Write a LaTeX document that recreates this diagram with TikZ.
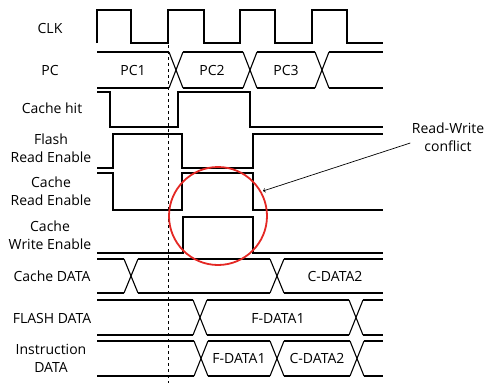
\documentclass[tikz,border=0pt]{standalone}
\usepackage{fontspec}
\setmainfont{Open Sans}
\usetikzlibrary{positioning}
\definecolor{conflictred}{RGB}{228,40,36}
\tikzset{every path/.style={line width=1.1pt}}
\tikzset{lbl/.style={align=center,font=\fontsize{14}{18}\selectfont,inner sep=1pt}}
\newcommand{\seg}[4]{
  \draw (#1,#3) -- (#2,#3);
  \draw (#1,#4) -- (#2,#4);
}
\newcommand{\cross}[3]{
  \draw (#1-7,#2) -- (#1+7,#3);
  \draw (#1-7,#3) -- (#1+7,#2);
}

\begin{document}
\begin{tikzpicture}[x=1pt,y=-1pt]
    \useasboundingbox (0,0) rectangle (485,383);

    % Names

    \node[lbl] (lclk) at (50,28) {CLK};
    \node[lbl] (lpc) at (50,70) {PC};
    \node[lbl] (lhit) at (52,108) {Cache hit};
    \node[lbl] (lfre) at (51,148) {Flash\\Read Enable};
    \node[lbl] (lcre) at (51,191) {Cache\\Read Enable};
    \node[lbl] (lcwe) at (50,235) {Cache\\Write Enable};
    \node[lbl] (lcdata) at (52,276) {Cache DATA};
    \node[lbl] (lfdata) at (52,318) {FLASH DATA};
    \node[lbl] (lidata) at (51,358) {Instruction\\DATA};

    % Clock and enables

    \draw (97,43) -- (97,10) -- (131,10) -- (131,43) -- (168,43) -- (168,10) -- (204,10) -- (204,43)
      -- (240,43) -- (240,10) -- (275,10) -- (275,43) -- (312,43) -- (312,10) -- (347,10) -- (347,43) -- (383,43);
    \draw (97,92) -- (110,92) -- (110,127) -- (178,127) -- (178,92) -- (250,92) -- (250,127) -- (383,127);
    \draw (97,168) -- (113,168) -- (113,134) -- (182,134) -- (182,168) -- (253,168) -- (253,134) -- (383,134);
    \draw (97,173) -- (113,173) -- (113,210) -- (182,210) -- (182,173) -- (253,173) -- (253,210) -- (383,210);
    \draw (97,253) -- (183,253) -- (183,217) -- (253,217) -- (253,253) -- (383,253);

    % PC

    \seg{97}{169}{52}{88}
    \cross{176}{52}{88}
    \seg{183}{243}{52}{88}
    \cross{250}{52}{88}
    \seg{257}{315}{52}{88}
    \cross{322}{52}{88}
    \seg{329}{383}{52}{88}
    \node[lbl] (pc1) at (133,70) {PC1};
    \node[lbl] (pc2) at (212,70) {PC2};
    \node[lbl] (pc3) at (286,70) {PC3};

    % Data buses

    \seg{97}{124}{259}{293}
    \cross{131}{259}{293}
    \seg{138}{270}{259}{293}
    \cross{277}{259}{293}
    \seg{284}{383}{259}{293}
    \node[lbl] (cdata) at (335,276) {C-DATA2};

    \seg{97}{193}{300}{335}
    \cross{200}{300}{335}
    \seg{207}{349}{300}{335}
    \cross{356}{300}{335}
    \seg{363}{383}{300}{335}
    \node[lbl] (fdata) at (278,318) {F-DATA1};

    \seg{97}{194}{341}{376}
    \cross{201}{341}{376}
    \seg{208}{270}{341}{376}
    \cross{277}{341}{376}
    \seg{284}{350}{341}{376}
    \cross{357}{341}{376}
    \seg{364}{383}{341}{376}
    \node[lbl] (idata1) at (239,358) {F-DATA1};
    \node[lbl] (idata2) at (317,358) {C-DATA2};

    % Conflict

    \draw[line width=1pt, dash pattern=on 3pt off 3pt] (168,45) -- (168,383);
    \draw[conflictred, line width=1.8pt] (218,216) circle (49pt);
    \node[lbl] (conflict) at (448,137) {Read-Write\\conflict};
    \coordinate (rw) at (263,191);
    \draw[->, line width=0.7pt] ([yshift=-6pt]conflict.west) -- (rw);
  \end{tikzpicture}
\end{document}
